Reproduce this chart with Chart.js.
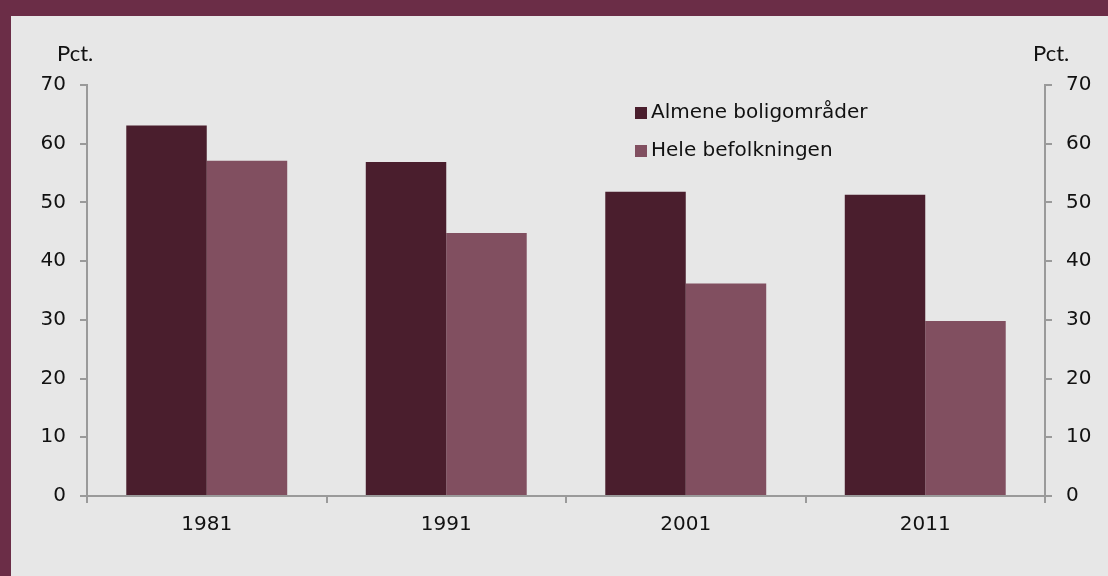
<!DOCTYPE html>
<html>
<head>
<meta charset="utf-8">
<script src="https://cdn.jsdelivr.net/npm/chart.js@4.4.1/dist/chart.umd.min.js"></script>
<style>
  html, body { margin: 0; padding: 0; }
  body { width: 1108px; height: 576px; background: #6b2d47; position: relative; overflow: hidden; }
  .vis-container { position: absolute; left: 11px; top: 16px; width: 1097px; height: 560px; background: #e7e7e7; }
  canvas { display: block; }
</style>
</head>
<body>
<div class="vis-container">
  <canvas id="vis" width="1097" height="560"></canvas>
</div>
<script>

// years on the x axis, shares in pct.
const years = ['1981', '1991', '2001', '2011'];
const almene = [63.1, 56.9, 51.8, 51.3];
const heleBefolkningen = [57.1, 44.8, 36.2, 29.8];
const seriesNames = ['Almene boligområder', 'Hele befolkningen'];
const yTicks = [0, 10, 20, 30, 40, 50, 60, 70];
const unitLabel = 'Pct.';

const colors = ['#4a1e2d', '#814f60'];
const axisColor = '#9a9a9a';
const tickFont = { family: 'DejaVu Sans', size: 20 };

// draws the "Pct." labels and the legend inside the plot
const extras = {
    id: 'extras',
    afterDraw(chart) {
        const ctx = chart.ctx;
        const area = chart.chartArea;

        ctx.save();
        ctx.fillStyle = '#111';
        ctx.font = '22px Lato';
        ctx.textBaseline = 'alphabetic';
        ctx.textAlign = 'left';
        ctx.fillText(unitLabel, 46, 45);
        ctx.fillText(unitLabel, area.right - 12, 45);

        ctx.font = '20px "DejaVu Sans"';
        ctx.textBaseline = 'middle';
        chart.data.datasets.forEach((ds, i) => {
            const y = area.top + 28 + i * 38;
            const x = area.left + 548;
            ctx.fillStyle = ds.backgroundColor;
            ctx.fillRect(x, y - 6, 12, 12);
            ctx.fillStyle = '#111';
            ctx.fillText(ds.label, x + 16, y);
        });
        ctx.restore();
    }
};

function yAxis(position, width) {
    return {
        position: position,
        min: 0,
        max: 70,
        afterBuildTicks: axis => { axis.ticks = yTicks.map(v => ({ value: v })); },
        afterFit: axis => { axis.width = width; },
        ticks: { color: '#111', font: tickFont, padding: 14 },
        border: { display: true, color: axisColor, width: 2 },
        grid: { drawOnChartArea: false, drawTicks: true, tickLength: 7, color: axisColor, lineWidth: 2 }
    };
}

const chart = new Chart(document.getElementById('vis'), {
    type: 'bar',
    data: {
        labels: years,
        datasets: [
            { label: seriesNames[0], data: almene, backgroundColor: colors[0], yAxisID: 'y' },
            { label: seriesNames[1], data: heleBefolkningen, backgroundColor: colors[1], yAxisID: 'y' }
        ]
    },
    options: {
        responsive: false,
        animation: false,
        layout: { padding: { top: 69, bottom: 0, left: 0, right: 0 } },
        datasets: { bar: { categoryPercentage: 0.672, barPercentage: 1 } },
        plugins: { legend: { display: false }, tooltip: { enabled: false } },
        scales: {
            x: {
                afterFit: axis => { axis.height = 80; },
                ticks: { color: '#111', font: tickFont, padding: 10 },
                border: { display: true, color: axisColor, width: 2 },
                grid: { offset: true, drawOnChartArea: false, drawTicks: true, tickLength: 7, color: axisColor, lineWidth: 2 }
            },
            y: yAxis('left', 76),
            y2: yAxis('right', 63)
        }
    },
    plugins: [extras]
});

</script>
</body>
</html>
